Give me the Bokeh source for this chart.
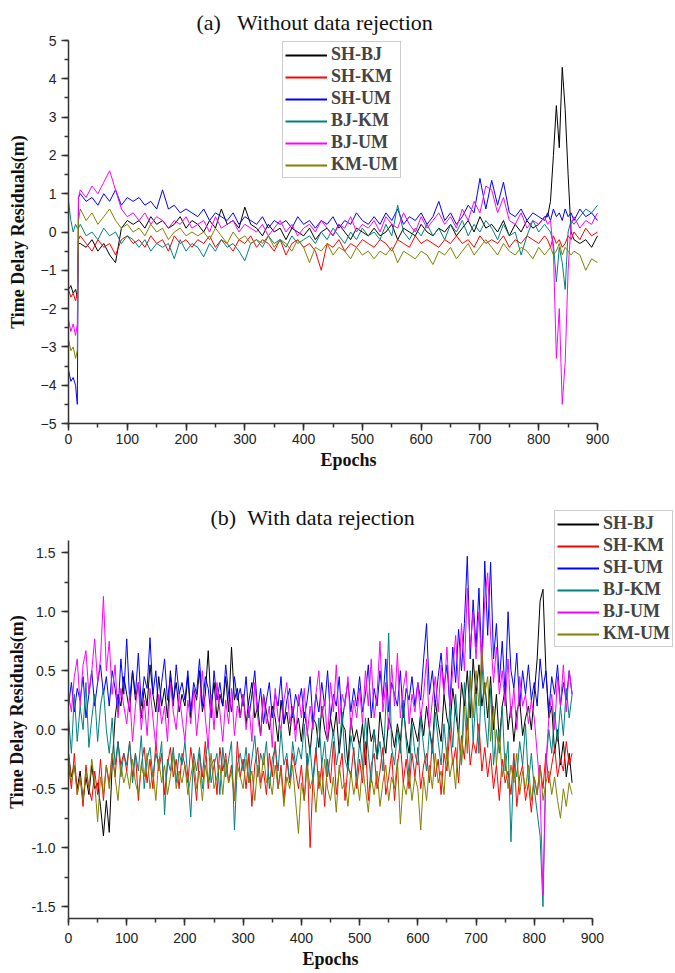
from bokeh.plotting import figure
from bokeh.layouts import column
from bokeh.models import (Range1d, SingleIntervalTicker, Legend, LegendItem,
                          PrintfTickFormatter, Label, Title)
from bokeh.embed import file_html
from bokeh.resources import INLINE

SERIES = ["SH-BJ", "SH-KM", "SH-UM", "BJ-KM", "BJ-UM", "KM-UM"]
COLORS = ["#000000", "#ff0000", "#0000ff", "#008080", "#ff00ff", "#808000"]

# ---------------- panel (a): without data rejection ----------------
EPOCHS_A = [0, 4, 8, 12, 15, 17] + list(range(20, 811, 10)) + list(range(815, 861, 5)) + [870, 880, 890, 900]

SH_BJ_A = [-1.5, -1.4, -1.6, -1.5, -1.7, -0.3,
           -0.3, -0.4, -0.2, -0.5, -0.3, -0.6, -0.8, 0.1, 0.3, 0.2,
           0.3, 0.1, 0.4, 0.2, 0.3, 0.1, 0.2, 0.4, 0.1, 0.3,
           0.2, 0.0, 0.3, 0.1, 0.6, 0.2, 0.3, 0.1, 0.65, 0.2,
           0.1, -0.1, 0.2, 0.0, 0.1, -0.2, 0.1, 0.0, -0.1, 0.1,
           -0.2, 0.0, 0.1, -0.1, 0.2, 0.0, -0.2, 0.1, 0.0, -0.1,
           0.1, -0.1, 0.0, 0.2, -0.2, 0.1, 0.0, -0.1, 0.2, 0.0,
           -0.1, 0.1, 0.0, 0.2, -0.1, 0.1, 0.3, 0.0, 0.4, 0.1,
           0.2, 0.0, 0.3, -0.1, 0.2, 0.0, 0.3, 0.1, 0.2, 0.4,
           0.4, 0.8, 2.0, 3.3, 2.2, 4.3, 3.2, 1.5, 0.0, -0.2,
           -0.3, -0.2, -0.4, -0.1]
SH_KM_A = [-1.5, -1.7, -1.6, -1.8, -1.6, -0.2,
           -0.1, -0.3, -0.5, -0.2, -0.4, -0.3, -0.6, -0.2, -0.1, -0.3,
           -0.2, -0.4, -0.1, -0.3, -0.2, -0.5, -0.1, -0.3, -0.2, -0.4,
           -0.2, -0.3, -0.1, -0.4, -0.2, -0.3, -0.5, -0.2, -0.3, -0.1,
           -0.4, -0.2, -0.3, -0.5, -0.2, -0.6, -0.3, -0.2, -0.4, -0.3,
           -0.5, -1.0, -0.3, -0.4, -0.2, -0.5, -0.3, -0.4, -0.2, -0.3,
           -0.4, -0.2, -0.3, -0.5, -0.2, -0.3, -0.4, -0.1, -0.3, -0.2,
           -0.3, -0.4, -0.2, -0.3, -0.1, -0.3, -0.2, -0.4, -0.1, -0.3,
           -0.2, -0.3, -0.1, -0.4, -0.2, -0.3, -0.1, -0.2, -0.3, -0.1,
           -0.2, -0.4, -0.1, -0.3, -0.2, -0.4, -0.3, -0.1, -0.2, 0.0,
           -0.2, 0.1, -0.1, 0.0]
SH_UM_A = [-3.6, -3.9, -3.8, -4.0, -4.5, 0.9,
           1.0, 0.8, 0.9, 0.7, 1.0, 0.8, 1.1, 0.7, 0.9, 0.8,
           0.9, 0.7, 0.8, 0.6, 1.1, 0.6, 0.7, 0.5, 0.6, 0.5,
           0.4, 0.6, 0.3, 0.5, 0.4, 0.3, 0.5, 0.2, 0.4, 0.3,
           0.2, 0.4, 0.1, 0.3, 0.2, 0.3, 0.1, 0.4, 0.2, 0.3,
           0.1, 0.3, 0.2, 0.4, 0.1, 0.3, 0.2, 0.5, 0.3, 0.2,
           0.4, 0.2, 0.5, 0.3, 0.6, 0.2, 0.4, 0.3, 0.5, 0.2,
           0.4, 0.8, 0.3, 0.5, 0.2, 0.4, 0.7, 0.5, 1.4, 0.6,
           1.35, 0.7, 1.3, 0.5, 0.4, 0.6, 0.3, 0.5, 0.4, 0.3,
           0.5, 0.3, 0.6, 0.4, 0.5, 0.3, 0.6, 0.4, 0.5, 0.3,
           0.6, 0.4, 0.5, 0.3]
BJ_KM_A = [0.8, 0.3, 0.0, 0.2, 0.1, 0.1,
           0.2, -0.1, 0.0, -0.2, 0.1, -0.1, 0.0, -0.3, -0.1, -0.2,
           -0.4, -0.2, -0.5, -0.3, -0.4, -0.3, -0.7, -0.2, -0.5, -0.3,
           -0.4, -0.65, -0.3, -0.5, -0.2, -0.4, -0.3, -0.5, -0.75, -0.3,
           -0.2, -0.4, -0.1, -0.3, -0.2, -0.4, -0.1, -0.3, -0.2, -0.1,
           -0.3, 0.0, -0.2, 0.1, -0.1, -0.3, 0.0, -0.2, 0.1, -0.1,
           0.0, -0.2, 0.2, -0.1, 0.7, 0.0, -0.2, 0.1, -0.1, 0.2,
           -0.1, 0.1, -0.2, 0.2, 0.0, 0.3, -0.1, 0.2, 0.0, 0.3,
           0.1, -0.2, 0.2, -0.1, 0.0, -0.6, -0.1, 0.3, 0.0, 0.2,
           0.1, 0.0, -0.3, -1.3, -0.4, -0.8, -1.5, 0.0, 0.3, 0.2,
           0.4, 0.6, 0.5, 0.7]
BJ_UM_A = [-2.3, -2.6, -2.4, -2.7, -2.4, 0.9,
           1.1, 0.9, 1.2, 1.0, 1.3, 1.6, 1.1, 0.6, 0.4, 0.5,
           0.3, 0.5, 0.2, 0.4, 0.3, 0.1, 0.3, 0.2, 0.4, 0.1,
           0.2, 0.3, 0.0, 0.4, 0.1, 0.2, 0.3, 0.0, 0.2, 0.1,
           0.0, 0.2, -0.1, 0.1, 0.3, 0.0, 0.2, -0.1, 0.1, 0.2,
           0.0, 0.3, 0.1, -0.1, 0.2, 0.1, 0.4, 0.0, 0.2, 0.1,
           0.3, 0.0, 0.4, 0.2, 0.1, 0.5, 0.2, 0.0, 0.4, 0.1,
           0.3, 0.5, 0.2, 0.4, 0.1, 0.6, 0.3, 0.8, 0.5, 1.2,
           1.1, 0.5, 0.9, 0.3, 0.2, 0.5, 0.1, 0.3, 0.2, 0.4,
           0.2, 0.3, -0.5, -3.3, -2.0, -4.5, -3.4, -1.0, 0.2, 0.4,
           0.1, 0.3, 0.2, 0.5]
KM_UM_A = [-2.8, -3.1, -3.0, -3.3, -3.1, 0.3,
           0.6, 0.3, 0.5, 0.2, 0.4, 0.6, 0.3, 0.1, 0.2, 0.0,
           0.1, -0.1, 0.2, 0.0, 0.1, -0.2, 0.0, 0.1, -0.1, 0.0,
           -0.1, 0.0, -0.2, 0.1, -0.1, -0.3, 0.0, -0.2, -0.1, -0.3,
           -0.2, -0.3, -0.1, -0.4, -0.2, -0.3, -0.5, -0.2, -0.4, -0.8,
           -0.4, -0.5, -0.3, -0.6, -0.4, -0.5, -0.7, -0.4, -0.6, -0.5,
           -0.7, -0.5, -0.6, -0.4, -0.8, -0.5, -0.6, -0.7, -0.5, -0.6,
           -0.85, -0.5, -0.6, -0.4, -0.7, -0.5, -0.3, -0.6, -0.4, -0.2,
           -0.4, -0.6, -0.3, -0.5, -0.6, -0.4, -0.5, -0.7, -0.4, -0.6,
           -0.5, -0.4, -0.6, -0.5, -0.3, -0.6, -0.4, -0.5, -0.6, -0.5,
           -0.6, -1.0, -0.7, -0.8]

# ---------------- panel (b): with data rejection ----------------
EPOCHS_B = list(range(0, 866, 5))

SH_BJ_B = [-0.2, -0.4, -0.3, -0.5, -0.35, -0.6, -0.4, -0.55, -0.3, -0.5, -0.45, -0.65, -0.9, -0.6, -0.87, -0.3, 0.1, 0.3, 0.2, 0.45,
           0.3, 0.15, 0.5, 0.25, 0.4, 0.1, 0.35, 0.2, 0.55, 0.3, 0.15, 0.45, 0.2, 0.35, 0.1, 0.5, 0.25, 0.4, 0.15, 0.3,
           0.2, 0.45, 0.1, 0.35, 0.25, 0.5, 0.15, 0.3, 0.67, 0.2, 0.4, 0.1, 0.3, 0.2, 0.45, 0.15, 0.7, 0.25, 0.35, 0.1,
           0.3, 0.05, 0.25, 0.4, 0.1, 0.2, -0.05, 0.3, 0.15, 0.0, 0.2, 0.1, -0.1, 0.25, 0.05, 0.15, -0.05, 0.2, 0.0, 0.1,
           -0.1, 0.15, 0.0, -0.2, 0.1, 0.05, -0.15, 0.2, 0.0, -0.1, 0.1, -0.05, 0.15, -0.2, 0.05, 0.0, -0.3, 0.1, -0.1, 0.0,
           -0.15, 0.05, -0.3, 0.1, -0.1, 0.0, -0.25, 0.15, -0.05, -0.2, 0.1, 0.0, -0.15, 0.05, -0.1, 0.2, -0.05, -0.2, 0.1, 0.0,
           -0.1, 0.15, -0.05, 0.2, 0.0, -0.15, 0.25, 0.05, -0.1, 0.3, 0.1, 0.0, 0.35, 0.15, -0.05, 0.4, 0.2, 0.5, 0.1, 0.6,
           0.3, 0.55, 0.2, 0.4, 0.1, 0.45, 0.0, 0.3, -0.1, 0.2, 0.35, 0.0, 0.2, -0.1, 0.15, 0.25, -0.05, 0.1, 0.2, 0.0,
           0.3, 0.6, 1.09, 1.19, 0.5, 0.1, 0.2, -0.2, 0.0, -0.3, -0.1, -0.4, -0.2, -0.45]
SH_KM_B = [-0.3, -0.5, -0.2, -0.55, -0.4, -0.65, -0.3, -0.5, -0.6, -0.35, -0.55, -0.25, -0.6, -0.3, -0.45, -0.2, -0.4, -0.1, -0.3, -0.2,
           -0.35, -0.1, -0.4, -0.2, -0.6, -0.3, -0.15, -0.45, -0.25, -0.5, -0.1, -0.35, -0.2, -0.55, -0.3, -0.15, -0.4, -0.25, -0.5, -0.2,
           -0.3, -0.45, -0.15, -0.35, -0.6, -0.2, -0.4, -0.1, -0.5, -0.3, -0.25, -0.55, -0.15, -0.35, -0.2, -0.45, -0.3, -0.6, -0.1, -0.4,
           -0.25, -0.5, -0.2, -0.65, -0.3, -0.15, -0.45, -0.35, -0.55, -0.2, -0.4, -0.1, -0.5, -0.3, -0.6, -0.25, -0.45, -0.2, -0.35, -0.5,
           -0.3, -0.6, -0.2, -1.0, -0.4, -0.15, -0.5, -0.3, -0.65, -0.25, -0.45, -0.1, -0.55, -0.35, -0.2, -0.6, -0.3, -0.4, -0.15, -0.5,
           -0.25, -0.45, -0.1, -0.6, -0.3, -0.2, -0.5, -0.35, -0.15, -0.55, -0.4, -0.2, -0.6, -0.3, -0.1, -0.45, -0.25, -0.5, -0.2, -0.4,
           -0.15, -0.5, -0.3, -0.2, -0.45, -0.1, -0.4, -0.25, -0.55, -0.2, -0.35, 0.0, -0.3, -0.15, -0.45, -0.05, -0.25, 0.1, -0.3, -0.1,
           -0.2, 0.05, -0.35, -0.15, -0.4, -0.2, -0.5, -0.3, -0.6, -0.25, -0.45, -0.35, -0.55, -0.2, -0.65, -0.4, -0.3, -0.6, -0.45, -0.7,
           -0.4, -0.55, -0.3, -0.5, -0.2, -0.45, -0.3, -0.15, -0.4, -0.25, -0.35, -0.1, -0.3, -0.2]
SH_UM_B = [0.2, 0.4, 0.15, 0.35, 0.25, 0.45, 0.1, 0.3, 0.5, 0.2, 0.4, 0.55, 0.3, 0.45, 0.2, 0.5, 0.35, 0.15, 0.6, 0.3,
           0.77, 0.25, 0.5, 0.3, 0.65, 0.2, 0.45, 0.35, 0.78, 0.3, 0.5, 0.15, 0.4, 0.6, 0.25, 0.45, 0.2, 0.55, 0.3, 0.4,
           0.25, 0.5, 0.15, 0.4, 0.3, 0.6, 0.2, 0.45, 0.35, 0.1, 0.5, 0.25, 0.4, 0.2, 0.55, 0.3, 0.15, 0.45, 0.25, 0.35,
           0.2, 0.45, 0.1, 0.3, 0.5, 0.15, 0.35, 0.05, 0.25, 0.4, 0.1, 0.3, 0.2, 0.45, 0.05, 0.25, 0.35, 0.1, 0.3, 0.2,
           0.35, 0.1, 0.25, 0.45, 0.05, 0.3, 0.15, 0.4, 0.2, 0.5, 0.1, 0.3, 0.2, 0.45, 0.05, 0.25, 0.4, 0.15, 0.35, 0.2,
           0.45, 0.15, 0.3, 0.55, 0.1, 0.35, 0.2, 0.5, 0.25, 0.6, 0.15, 0.4, 0.3, 0.2, 0.5, 0.1, 0.35, 0.25, 0.45, 0.2,
           0.4, 0.25, 0.6, 0.9, 0.3, 0.5, 0.2, 0.45, 0.65, 0.35, 0.55, 0.2, 0.7, 0.4, 0.85, 0.5, 0.9, 1.47, 0.6, 1.1,
           0.7, 1.2, 0.55, 1.43, 0.8, 1.42, 0.6, 0.9, 0.4, 0.75, 0.3, 1.0, 0.5, 0.35, 0.65, 0.2, 0.5, 0.3, 0.55, 0.25,
           0.4, 0.2, 0.6, 0.35, 0.5, 0.15, 0.45, 0.3, 0.55, 0.2, 0.4, 0.25, 0.5, 0.3]
BJ_KM_B = [0.1, -0.2, 0.3, -0.1, 0.2, 0.0, 0.4, -0.15, 0.1, 0.3, -0.1, 0.2, 0.35, 0.0, -0.2, 0.1, -0.3, -0.1, -0.4, -0.2,
           -0.3, -0.1, -0.45, -0.2, -0.35, -0.05, -0.5, -0.25, -0.15, -0.4, -0.2, -0.3, -0.1, -0.72, -0.25, -0.35, -0.15, -0.45, -0.2, -0.3,
           -0.1, -0.4, -0.74, -0.2, -0.35, -0.15, -0.5, -0.25, -0.1, -0.45, -0.3, -0.2, -0.55, -0.15, -0.4, -0.25, -0.1, -0.85, -0.3, -0.2,
           -0.35, -0.15, -0.45, -0.25, -0.05, -0.4, -0.2, -0.3, -0.1, -0.5, -0.25, -0.15, -0.35, 0.0, -0.3, -0.2, -0.45, -0.1, -0.3, -0.15,
           -0.25, 0.05, -0.35, -0.15, -0.45, -0.2, 0.1, -0.3, -0.1, -0.4, -0.2, 0.0, -0.3, -0.15, 0.15, -0.25, -0.35, -0.05, -0.2, -0.4,
           -0.1, -0.3, 0.1, -0.2, -0.45, 0.0, -0.25, -0.1, -0.35, 0.2, 0.82, -0.15, -0.3, 0.0, -0.2, 0.25, -0.1, -0.4, 0.05, -0.2,
           -0.3, 0.1, -0.15, -0.35, 0.0, -0.2, 0.15, -0.1, -0.3, 0.05, -0.25, 0.2, -0.15, 0.3, -0.05, -0.3, 0.4, 0.0, 0.5, -0.1,
           0.3, -0.2, 0.6, 0.1, -0.15, 0.35, -0.3, 0.0, -0.2, 0.2, -0.35, -0.1, -0.95, -0.25, -0.4, -0.1, -0.3, 0.05, -0.45, -0.2,
           -0.5, -0.7, -0.9, -1.5, -0.3, 0.0, -0.2, 0.15, -0.1, 0.2, -0.05, 0.35, 0.1, 0.3]
BJ_UM_B = [0.3, 0.15, 0.45, 0.6, 0.2, 0.55, 0.67, 0.3, 0.5, 0.77, 0.4, 0.6, 1.13, 0.5, 0.75, 0.3, 0.55, 0.1, 0.35, 0.2,
           0.05, 0.3, -0.1, 0.2, 0.4, 0.0, 0.25, -0.05, 0.35, 0.1, -0.15, 0.3, 0.05, 0.2, -0.1, 0.4, 0.15, 0.0, 0.3, 0.1,
           -0.1, 0.25, 0.05, 0.35, -0.05, 0.2, 0.5, 0.1, -0.15, 0.3, 0.0, 0.4, 0.15, -0.1, 0.25, 0.05, 0.35, -0.05, 0.2, 0.1,
           0.3, 0.0, 0.2, -0.1, 0.4, 0.1, -0.05, 0.3, 0.05, 0.2, -0.15, 0.35, 0.1, 0.0, 0.25, 0.4, 0.05, 0.2, -0.1, 0.3,
           0.1, 0.35, -0.05, 0.2, 0.0, 0.3, 0.5, 0.1, 0.25, -0.1, 0.4, 0.15, 0.55, 0.05, 0.3, 0.2, 0.45, 0.0, 0.25, 0.1,
           0.35, 0.05, 0.5, 0.2, 0.6, 0.1, 0.3, 0.75, 0.15, 0.4, 0.0, 0.55, 0.2, 0.65, 0.1, 0.35, 0.5, 0.05, 0.3, 0.15,
           0.4, 0.1, 0.3, 0.6, 0.0, 0.25, 0.45, 0.15, 0.55, 0.3, 0.7, 0.2, 0.5, 0.8, 0.35, 0.9, 0.5, 1.2, 0.7, 1.0,
           0.6, 1.0, 0.5, 1.1, 1.33, 0.8, 0.4, 0.7, 0.3, 0.5, 0.2, 0.6, 0.1, 0.35, 0.0, 0.45, 0.2, 0.3, 0.05, 0.25,
           0.1, -0.2, -0.5, -1.4, -0.3, 0.1, 0.3, 0.0, 0.45, 0.2, 0.55, 0.15, 0.5, 0.3]
KM_UM_B = [-0.2, -0.45, -0.3, -0.55, -0.4, -0.6, -0.35, -0.5, -0.25, -0.45, -0.78, -0.4, -0.55, -0.3, -0.5, -0.2, -0.4, -0.6, -0.3, -0.45,
           -0.35, -0.5, -0.25, -0.45, -0.55, -0.3, -0.4, -0.2, -0.5, -0.35, -0.6, -0.25, -0.45, -0.3, -0.55, -0.4, -0.2, -0.5, -0.35, -0.45,
           -0.3, -0.55, -0.4, -0.25, -0.5, -0.35, -0.6, -0.3, -0.45, -0.2, -0.5, -0.4, -0.3, -0.55, -0.25, -0.45, -0.35, -0.6, -0.3, -0.4,
           -0.5, -0.25, -0.45, -0.35, -0.6, -0.3, -0.5, -0.2, -0.45, -0.4, -0.55, -0.3, -0.5, -0.35, -0.65, -0.4, -0.5, -0.3, -0.6, -0.88,
           -0.45, -0.6, -0.3, -0.5, -0.4, -0.7, -0.35, -0.55, -0.25, -0.5, -0.6, -0.4, -0.7, -0.3, -0.5, -0.45, -0.65, -0.35, -0.55, -0.4,
           -0.6, -0.3, -0.5, -0.7, -0.4, -0.55, -0.35, -0.65, -0.45, -0.3, -0.6, -0.4, -0.5, -0.25, -0.8, -0.45, -0.55, -0.35, -0.6, -0.4,
           -0.5, -0.85, -0.4, -0.6, -0.3, -0.5, -0.2, -0.45, -0.35, -0.55, -0.15, -0.4, -0.25, -0.5, 0.0, -0.3, 0.2, -0.2, 0.45, 0.1,
           0.5, 0.2, 0.7, 0.3, 0.45, -0.1, 0.2, -0.3, 0.0, -0.4, -0.2, -0.5, -0.3, -0.45, -0.2, -0.55, -0.35, -0.5, -0.3, -0.6,
           -0.4, -0.55, -0.3, -0.6, -0.45, -0.35, -0.55, -0.4, -0.6, -0.75, -0.5, -0.65, -0.45, -0.55]

DATA_A = [SH_BJ_A, SH_KM_A, SH_UM_A, BJ_KM_A, BJ_UM_A, KM_UM_A]
DATA_B = [SH_BJ_B, SH_KM_B, SH_UM_B, BJ_KM_B, BJ_UM_B, KM_UM_B]
for d in DATA_A:
    assert len(d) == len(EPOCHS_A), len(d)
for d in DATA_B:
    assert len(d) == len(EPOCHS_B), len(d)

SERIF = "Liberation Serif"
NAN = float("nan")


def style_axes(p, yint, yfmt):
    for ax in (p.xaxis[0], p.yaxis[0]):
        ax.axis_line_color = "#333333"
        ax.axis_line_width = 1.5
        ax.major_tick_line_color = "#333333"
        ax.major_tick_line_width = 1.5
        ax.minor_tick_line_color = "#333333"
        ax.minor_tick_line_width = 1.5
        ax.major_tick_in = 0
        ax.major_tick_out = 7
        ax.minor_tick_in = 0
        ax.minor_tick_out = 4
        ax.major_label_text_font = "Liberation Sans"
        ax.major_label_text_font_size = "14px"
        ax.major_label_text_color = "#222222"
        ax.axis_label_text_font = SERIF
        ax.axis_label_text_font_style = "bold"
        ax.axis_label_text_font_size = "18px"
        ax.axis_label_text_color = "#111111"
    p.xaxis[0].ticker = SingleIntervalTicker(interval=100, num_minor_ticks=2)
    p.yaxis[0].ticker = SingleIntervalTicker(interval=yint, num_minor_ticks=2)
    if yfmt:
        p.yaxis[0].formatter = PrintfTickFormatter(format=yfmt)
    p.xaxis[0].bounds = (0, 900)
    p.xaxis[0].axis_label = None
    p.xgrid.visible = False
    p.ygrid.visible = False
    p.outline_line_color = None


def add_xlabel(p, offset):
    t = Title(text="Epochs", align="left", offset=offset, text_font=SERIF,
              text_font_size="18px", text_font_style="bold", text_color="#111111", standoff=2)
    p.add_layout(t, "below")


def add_legend(p, loc):
    # legend-only line renderers (a single NaN point, so nothing is drawn in the plot)
    dummies = [p.line(x=[NAN], y=[NAN], line_color=c, line_width=2) for c in COLORS]
    items = [LegendItem(label=n, renderers=[r]) for n, r in zip(SERIES, dummies)]
    leg = Legend(items=items, location=loc)
    leg.label_text_font = SERIF
    leg.label_text_font_style = "bold"
    leg.label_text_font_size = "18px"
    leg.glyph_width = 42
    leg.glyph_height = 20
    leg.label_height = 20
    leg.label_standoff = 4
    leg.spacing = 1
    leg.padding = 2
    leg.margin = 0
    leg.border_line_color = "#999999"
    leg.border_line_width = 1
    leg.background_fill_color = "white"
    leg.background_fill_alpha = 1.0
    p.add_layout(leg, "center")


# ---- top figure: canvas rows 0..472, frame x 68..675, y 40..423 ----
p1 = figure(width=675, height=472, x_range=Range1d(0, 1032.7), y_range=Range1d(-5, 5),
            output_backend="svg", toolbar_location=None,
            min_border_left=68, min_border_right=0, min_border_top=40, min_border_bottom=49)
for d, c in zip(DATA_A, COLORS):
    p1.line(EPOCHS_A, d, line_color=c, line_width=1)
style_axes(p1, 1, None)
p1.yaxis[0].axis_label = "Time Delay Residuals(m)"
p1.yaxis[0].major_label_standoff = 5
p1.yaxis[0].axis_label_standoff = 10
p1.xaxis[0].major_label_standoff = 3
p1.title.text = "(a)\u00a0\u00a0 Without data rejection"
p1.title.text_font = SERIF
p1.title.text_font_size = "22px"
p1.title.text_font_style = "normal"
p1.title.text_color = "#111111"
p1.title.align = "left"
p1.title.offset = 128
p1.title.standoff = 12
add_xlabel(p1, 252)
add_legend(p1, (214, 245))

# ---- bottom figure: canvas rows 472..973, frame x 68..675, y 505..918 ----
p2 = figure(width=675, height=501, x_range=Range1d(0, 1042.6), y_range=Range1d(-1.6, 1.9),
            output_backend="svg", toolbar_location=None,
            min_border_left=68, min_border_right=0, min_border_top=33, min_border_bottom=55)
for d, c in zip(DATA_B, COLORS):
    p2.line(EPOCHS_B, d, line_color=c, line_width=1)
style_axes(p2, 0.5, "%.1f")
p2.yaxis[0].bounds = (-1.6, 1.6)
p2.yaxis[0].axis_label = None
p2.yaxis[0].major_label_standoff = 6
p2.xaxis[0].major_label_standoff = 7
ylab_b = Title(text="Time Delay Residuals(m)", align="center", offset=-18, text_font=SERIF,
               text_font_size="18px", text_font_style="bold", text_color="#111111", standoff=3)
p2.add_layout(ylab_b, "left")
add_xlabel(p2, 234)
title_b = Label(x=142, y=401, x_units="screen", y_units="screen",
                text="(b)\u00a0\u00a0With data rejection", text_font=SERIF,
                text_font_size="22px", text_color="#111111", text_baseline="middle")
p2.add_layout(title_b)
add_legend(p2, (486, 271))

layout = column(p1, p2, spacing=0)
open("out.html", "w").write(file_html(layout, INLINE))
